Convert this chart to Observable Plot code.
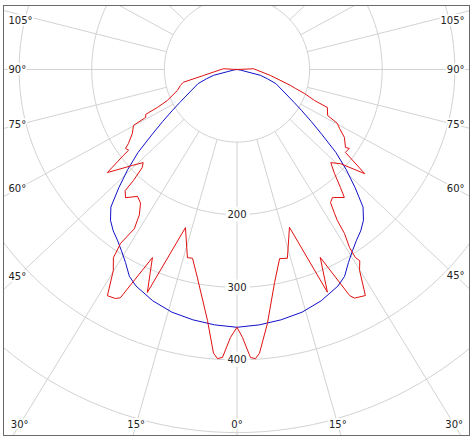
<!DOCTYPE html>
<html>
<head>
<meta charset="utf-8">
<script src="https://cdn.jsdelivr.net/npm/d3@7"></script>
<script src="https://cdn.jsdelivr.net/npm/@observablehq/plot@0.6"></script>
<style>
  html, body { margin: 0; padding: 0; background: #fff; }
  #chart svg { display: block; }
</style>
</head>
<body>
<div id="chart"></div>
<script>
// ---- data (angles in degrees from nadir, intensities in cd/klm) ----
const radialTicks = [100, 200, 300, 400, 500, 600];
const radialLabels = [200, 300, 400];
const spokeAngles = d3.range(-180, 180, 15);
const angleLabels = [0, 15, 30, 45, 60, 75, 90, 105];

// blue curve (C0/C180 plane, symmetric)
const blueAngles = [0, 5, 10, 15, 20, 25, 27.5, 30, 32.5, 35, 37.5, 40, 42.5, 45, 47.5, 50, 52.5, 55, 57.5, 60, 65, 70, 73, 76, 80, 90];
const blueValues = [355, 353, 350, 346, 339, 329, 321, 307, 296, 287, 280, 271, 257, 230, 204, 178, 148, 125, 106, 91, 70, 57, 44, 33, 5, 0];

// red curve, right half (C90 plane)
const redRightAngles = [100, 92.4, 79.8, 73.4, 72, 70.4, 68.2, 67.2, 63.1, 61.75, 60.1, 57.7, 54.3, 54.9, 52.6, 50.8, 47.75, 45.2, 43.2, 41.25, 40, 36.7, 35.1, 34.1, 33.6, 33.25, 32.3, 32.2, 32.7, 31.4, 29.6, 27.2, 26.5, 23.9, 22.1, 18.4, 14.96, 12.7, 10, 6.85, 4.53, 3.66, 2.68, 1.18, 0];
const redRightValues = [0, 23, 47, 77, 85, 99, 115, 135, 140, 157, 163, 175, 184, 189, 188, 227, 193, 182, 196, 216, 230, 220, 224, 240, 250, 270, 290, 306, 313, 324, 358, 354, 348, 283, 331, 229, 269, 267, 298, 352, 392, 399, 397, 369, 355];

// red curve, left half (C270 plane)
const redLeftAngles = [100, 93, 79.8, 76.6, 74.2, 70.6, 66, 64.5, 63.8, 62.3, 61.6, 58.5, 55.7, 54.7, 53.3, 52.9, 51.5, 47.4, 45.2, 44, 43, 42.7, 41, 38.1, 35.8, 33.9, 32.8, 33.8, 33.4, 33.3, 31.6, 29.8, 27.95, 27.06, 24.2, 21.9, 18.05, 14.75, 13.25, 10.75, 6.7, 4.73, 3.86, 2.88, 1.39, 0];
const redLeftValues = [0, 19, 47, 76, 81, 87, 105, 121, 140, 142, 162, 169, 181, 188, 186, 196, 228, 195, 182, 188, 209, 227, 234, 222, 227, 241, 261, 288, 304, 310, 325, 359, 357, 353, 284, 331, 229, 268, 267, 292, 348, 392, 399, 397, 369, 355];

// ---- layout ----
const W = 475, H = 439;
const mL = 3, mR = 6, mT = 5, mB = 4;
const xDom = [-321.5, 320.2];
const yDom = [-504, 88.1];
const k = (W - mL - mR) / (xDom[1] - xDom[0]); // px per unit
const spread = 1.06; // the reference's spokes fan out slightly wider than true angles

const rad = d => d * Math.PI / 180;
// signed angle: negative = left half, positive = right half
const px = (a, r) => r * Math.sin(rad(a));
const py = (a, r) => -r * Math.cos(rad(a));

// spoke direction (unit-ish) as drawn in the reference
const sdir = a => {
  const dx = spread * Math.sin(rad(a)), dy = -Math.cos(rad(a));
  const n = Math.hypot(dx, dy);
  return [dx / n, dy / n];
};

// grid circles
const circleData = radialTicks.flatMap(r =>
  d3.range(0, 361, 2).map(a => ({r, x: px(a, r), y: py(a, r)})));

// curves
const blueData = [
  ...blueAngles.map((a, i) => ({a: -a, v: blueValues[i]})).reverse(),
  ...blueAngles.slice(1).map((a, i) => ({a, v: blueValues[i + 1]}))
];
const redData = [
  ...redLeftAngles.map((a, i) => ({a: -a, v: redLeftValues[i]})),
  ...redRightAngles.map((a, i) => ({a, v: redRightValues[i]})).reverse()
];

// angle labels placed where the spoke reaches the (inset) frame
const xbL = -xDom[0] - 14 / k, xbR = xDom[1] - 14 / k;
const ybMag = -yDom[0] - 11 / k;
const yTopMax = yDom[1] - 15 / k;
const labelData = [];
for (const a of angleLabels) {
  for (const s of (a === 0 ? [1] : [-1, 1])) {
    const [ux, uy] = sdir(a);
    const sa = ux, ca = -uy;
    const tx = sa > 1e-9 ? (s < 0 ? xbL : xbR) / sa : Infinity;
    const ty = ca > 1e-9 ? ybMag / ca : Infinity;
    if (tx < ty) {
      labelData.push({text: a + "°", anchor: s < 0 ? "start" : "end",
        x: s < 0 ? xDom[0] + 5 / k : xDom[1] - 5 / k, y: Math.min(-tx * ca, yTopMax)});
    } else {
      labelData.push({text: a + "°", anchor: "middle", x: s * ty * sa, y: -ybMag});
    }
  }
}

const font = "DejaVu Sans";
const textStyle = {fill: "#222", fontSize: 10, fontFamily: font};

const chart = Plot.plot({
  width: W,
  height: H,
  marginLeft: mL, marginRight: mR, marginTop: mT, marginBottom: mB,
  x: {domain: xDom, axis: null},
  y: {domain: yDom, axis: null},
  style: {background: "#fff", fontFamily: font},
  marks: [
    Plot.line(circleData, {x: "x", y: "y", z: "r", stroke: "#d2d2d2", strokeWidth: 1, clip: true}),
    Plot.link(spokeAngles, {
      x1: a => 100 * sdir(a)[0], y1: a => 100 * sdir(a)[1],
      x2: a => 1000 * sdir(a)[0], y2: a => 1000 * sdir(a)[1],
      stroke: "#d2d2d2", strokeWidth: 1, clip: true
    }),
    Plot.line(blueData, {x: d => px(d.a, d.v), y: d => py(d.a, d.v), stroke: "#1010c8", strokeWidth: 1, clip: true}),
    Plot.line(redData, {x: d => px(d.a, d.v), y: d => py(d.a, d.v), stroke: "#e01010", strokeWidth: 1, clip: true}),
    Plot.text(radialLabels, {x: 0, y: r => -r, text: r => String(r), ...textStyle, stroke: "white", strokeWidth: 7}),
    Plot.text(labelData.filter(d => d.anchor === "start"), {x: "x", y: "y", text: "text", textAnchor: "start", ...textStyle, stroke: "white", strokeWidth: 4}),
    Plot.text(labelData.filter(d => d.anchor === "end"), {x: "x", y: "y", text: "text", textAnchor: "end", ...textStyle, stroke: "white", strokeWidth: 4}),
    Plot.text(labelData.filter(d => d.anchor === "middle"), {x: "x", y: "y", text: "text", textAnchor: "middle", ...textStyle, stroke: "white", strokeWidth: 4}),
    Plot.frame({stroke: "#6a6a6a", strokeWidth: 1})
  ]
});
document.getElementById("chart").appendChild(chart);
</script>
</body>
</html>
